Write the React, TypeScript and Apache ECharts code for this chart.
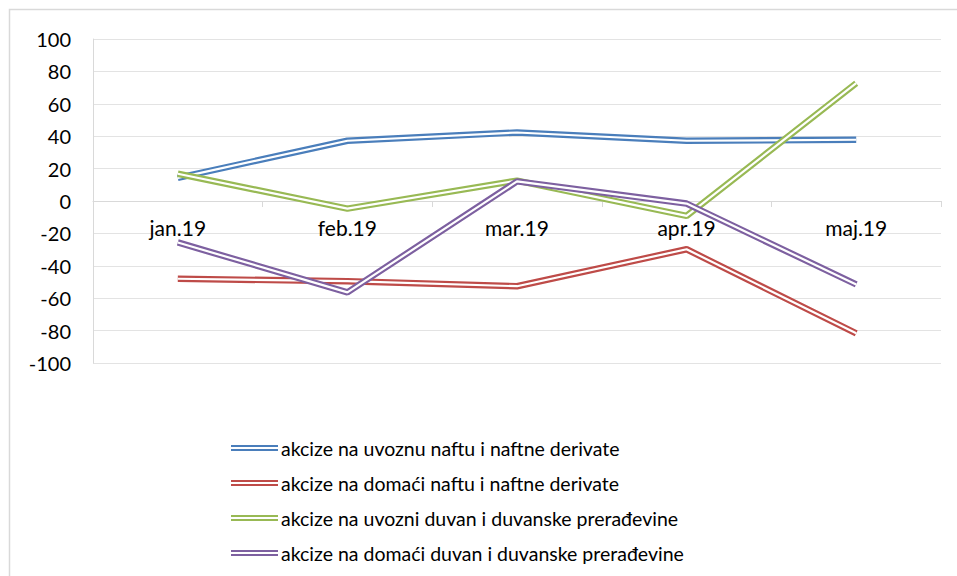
import React, { useEffect, useRef } from "react";
import * as echarts from "echarts";

const categories = ["jan.19", "feb.19", "mar.19", "apr.19", "maj.19"];
const seriesNames = [
  "akcize na uvoznu naftu i naftne derivate",
  "akcize na domaći naftu i naftne derivate",
  "akcize na uvozni duvan i duvanske prerađevine",
  "akcize na domaći duvan i duvanske prerađevine",
];
const uvozNafta = [14.3, 37.2, 42.3, 37.2, 37.8];
const domaciNafta = [-48, -49.5, -52.6, -29.8, -81.7];
const uvozDuvan = [16.8, -4.7, 12.6, -9.2, 72.7];
const domaciDuvan = [-25.6, -56.4, 12.1, -1.6, -51.5];
const seriesValues = [uvozNafta, domaciNafta, uvozDuvan, domaciDuvan];
const colors = ["#4A7EBB", "#BE4B48", "#98B954", "#7D60A0"];
const yTicks = { min: -100, max: 100, interval: 20 };

const FONT = "Lato, 'Open Sans', sans-serif";

export default function App() {
  const ref = useRef<HTMLDivElement>(null);
  useEffect(() => {
    if (!ref.current) return;
    const chart = echarts.init(ref.current, undefined, { renderer: "svg" });
    const series: any[] = [];
    seriesValues.forEach((vals, i) => {
      series.push({
        name: seriesNames[i],
        type: "line",
        data: vals,
        symbol: "none",
        z: 2 + i * 2,
        lineStyle: { color: colors[i], width: 6.5 },
        itemStyle: { color: colors[i] },
      });
      series.push({
        name: seriesNames[i] + " (inner)",
        type: "line",
        data: vals,
        symbol: "none",
        z: 3 + i * 2,
        lineStyle: { color: "#ffffff", width: 2.2 },
        itemStyle: { color: "#ffffff" },
      });
    });
    chart.setOption({
      animation: false,
      backgroundColor: "#ffffff",
      textStyle: { fontFamily: FONT },
      graphic: [
        {
          type: "rect",
          shape: { x: 9.5, y: 9.5, width: 1000, height: 600 },
          style: { fill: "none", stroke: "#d9d9d9", lineWidth: 1.5 },
          silent: true,
          z: -1,
        },
      ],
      grid: { left: 93, right: 16, top: 39, bottom: 213, containLabel: false },
      xAxis: {
        type: "category",
        data: categories,
        boundaryGap: true,
        offset: -162,
        axisLine: { show: true, onZero: false, lineStyle: { color: "#d9d9d9", width: 1 } },
        axisTick: { show: true, length: 6, lineStyle: { color: "#d9d9d9" } },
        axisLabel: { color: "#000000", fontSize: 21, fontWeight: "normal", margin: 16, fontFamily: FONT },
        splitLine: { show: false },
      },
      yAxis: {
        type: "value",
        min: yTicks.min,
        max: yTicks.max,
        interval: yTicks.interval,
        axisLine: { show: true, lineStyle: { color: "#d9d9d9" } },
        axisTick: { show: false },
        axisLabel: { color: "#000000", fontSize: 20, fontWeight: "normal", margin: 22, fontFamily: FONT },
        splitLine: { show: true, lineStyle: { color: "#e3e3e3", width: 1 } },
      },
      legend: {
        data: seriesNames,
        orient: "vertical",
        left: 226,
        top: 433,
        itemGap: 15,
        itemWidth: 47,
        itemHeight: 6,
        icon: "path://M0,0H47V2H0Z M0,4H47V6H0Z",
        textStyle: { color: "#000000", fontSize: 19.5, fontWeight: "normal", fontFamily: FONT, padding: [0, 0, 0, -2] },
        selectedMode: false,
      },
      series,
    });
    return () => chart.dispose();
  }, []);
  return (
    <div
      ref={ref}
      style={{ position: "fixed", left: 0, top: 0, width: 957, height: 576 }}
    />
  );
}
